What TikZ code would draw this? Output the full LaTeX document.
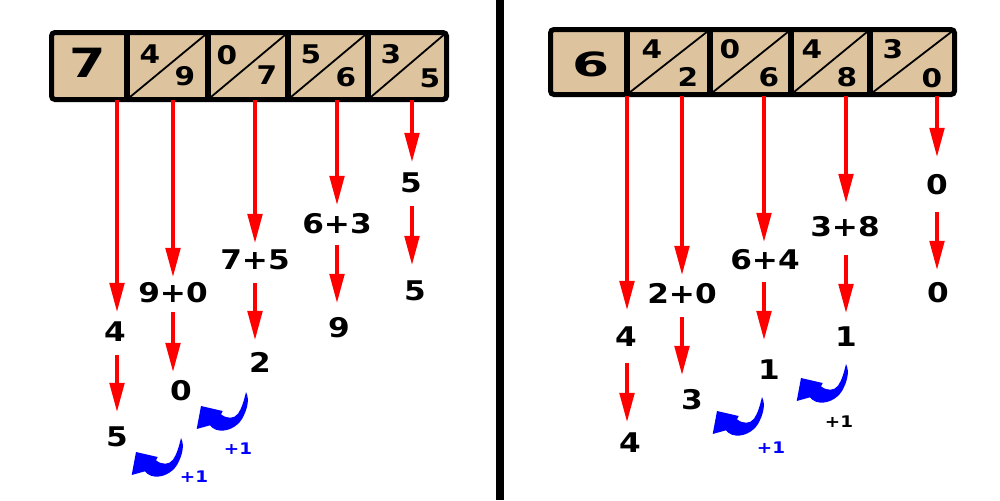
\documentclass[tikz,border=0pt]{standalone}
\usepackage{fontspec}
\usepackage{graphicx}
\usetikzlibrary{arrows.meta}
\newfontfamily\djv[FakeStretch=1.15]{DejaVu Sans}
\newfontfamily\djvbig{DejaVu Sans}
\definecolor{boxtan}{RGB}{221,196,158}
\begin{document}
\begin{tikzpicture}[x=0.72pt,y=-0.72pt,
  lab/.style={inner sep=0pt, font=\djv\bfseries\fontsize{19.5}{20}\selectfont},
  cd/.style={inner sep=0pt, font=\djv\bfseries\fontsize{18.5}{20}\selectfont},
  big/.style={inner sep=0pt, font=\djvbig\bfseries\fontsize{29}{30}\selectfont},
  small/.style={inner sep=0pt, font=\djv\bfseries\fontsize{11.5}{12}\selectfont},
  ra/.style={draw=red, line width=2.5pt, -{Triangle[width=10.5pt,length=21pt]}},
  frame/.style={line width=3.6pt, rounded corners=2.5pt},
  divider/.style={line width=4.3pt},
  diag/.style={line width=1.3pt},
  swoosh/.pic={\fill[blue] (0,0) .. controls (4,8) and (1,18) .. (-4,27)
     .. controls (-9,35) and (-20,41) .. (-30,37.7)
     .. controls (-33,36.5) and (-35,35) .. (-36,33.3)
     -- (-49.3,37) -- (-45,14) -- (-23.3,19) -- (-25,22.3)
     .. controls (-19,27) and (-12,27) .. (-8,21.7)
     .. controls (-4,16) and (-2,8) .. (0,0) -- cycle;}
]
\useasboundingbox (0,0) rectangle (1000,500);
\fill[white] (0,0) rectangle (1000,500);

% ---------- left box ----------
\fill[boxtan] (51.5,32.5) rectangle (446.5,99.5);
\foreach \l/\r in {127/208,208/288,288/368,368/446.5}
  \draw[diag] (\l,99.5) -- (\r,32.5);
\foreach \x in {127,208,288,368}
  \draw[divider] (\x,32.5) -- (\x,99.5);
\draw[frame] (51.5,32.5) rectangle (446.5,99.5);
\node[big] (L7) at (88,63) {\scalebox{1.3}[1]{7}};
\node[cd] at (150,54) {4};
\node[cd] at (185,76) {9};
\node[cd] at (227,55) {0};
\node[cd] at (267,75) {7};
\node[cd] at (311,54) {5};
\node[cd] at (346,77) {6};
\node[cd] at (391,54) {3};
\node[cd] at (430,78) {5};

% ---------- right box ----------
\fill[boxtan] (550.5,29.5) rectangle (954.5,94.5);
\foreach \l/\r in {627/710,710/791,791/870,870/954.5}
  \draw[diag] (\l,94.5) -- (\r,29.5);
\foreach \x in {627,710,791,870}
  \draw[divider] (\x,29.5) -- (\x,94.5);
\draw[frame] (550.5,29.5) rectangle (954.5,94.5);
\node[big, font=\djvbig\bfseries\fontsize{24}{25}\selectfont] (R6) at (591,64) {\scalebox{1.6}[1]{6}};
\node[cd] at (652,49) {4};
\node[cd] at (688,77) {2};
\node[cd] at (730,49) {0};
\node[cd] at (769,77) {6};
\node[cd] at (812,49) {4};
\node[cd] at (847,77) {8};
\node[cd] at (893,49) {3};
\node[cd] at (932,78) {0};

% ---------- separator ----------
\draw[line width=5.8pt] (500,0) -- (500,500);

% ---------- arrow starts ----------
\coordinate (a1) at (117,100);
\coordinate (a2) at (173,100);
\coordinate (a3) at (255,100);
\coordinate (a4) at (337,100);
\coordinate (a5) at (412,100);
\coordinate (b1) at (627,96);
\coordinate (b2) at (682,96);
\coordinate (b3) at (764,96);
\coordinate (b4) at (846,96);
\coordinate (b5) at (937,96);

% ---------- left labels ----------
\node[lab] (l1) at (115,332) {4};
\node[lab] (l1b) at (117,437) {5};
\node[lab] (l2) at (173,293) {9+0};
\node[lab] (l2b) at (181,391) {0};
\node[lab] (l3) at (255,260) {7+5};
\node[lab] (l3b) at (260,362) {2};
\node[lab] (l4) at (337,224) {6+3};
\node[lab] (l4b) at (339,328) {9};
\node[lab] (l5) at (411,183) {5};
\node[lab] (l5b) at (415,291) {5};

% ---------- right labels ----------
\node[lab] (r1) at (626,337) {4};
\node[lab] (r1b) at (630,443) {4};
\node[lab] (r2) at (682,294) {2+0};
\node[lab] (r2b) at (692,400) {3};
\node[lab] (r3) at (765,260) {6+4};
\node[lab] (r3b) at (769,370) {1};
\node[lab] (r4) at (845,227) {3+8};
\node[lab] (r4b) at (846,337) {1};
\node[lab] (r5) at (937,185) {0};
\node[lab] (r5b) at (938,293) {0};

% ---------- left arrows ----------
\draw[ra, shorten >=14.4pt] (a1) -- (a1 |- l1.center);
\draw[ra, shorten >=11.5pt] (a2) -- (a2 |- l2.center);
\draw[ra, shorten >=12.2pt] (a3) -- (a3 |- l3.center);
\draw[ra, shorten >=13.7pt] (a4) -- (a4 |- l4.center);
\draw[ra, shorten >=15.1pt] (a5) -- (a5 |- l5.center);
\draw[ra, shorten <=16.6pt, shorten >=18pt] (a1 |- l1.center) -- (a1 |- l1b.center);
\draw[ra, shorten <=13.7pt, shorten >=13.7pt] (a2 |- l2.center) -- (a2 |- l2b.center);
\draw[ra, shorten <=16.6pt, shorten >=15.8pt] (a3 |- l3.center) -- (a3 |- l3b.center);
\draw[ra, shorten <=15.1pt, shorten >=18pt] (a4 |- l4.center) -- (a4 |- l4b.center);
\draw[ra, shorten <=16.6pt, shorten >=18.7pt] (a5 |- l5.center) -- (a5 |- l5b.center);

% ---------- right arrows ----------
\draw[ra, shorten >=19.4pt] (b1) -- (b1 |- r1.center);
\draw[ra, shorten >=13.7pt] (b2) -- (b2 |- r2.center);
\draw[ra, shorten >=13pt] (b3) -- (b3 |- r3.center);
\draw[ra, shorten >=17.3pt] (b4) -- (b4 |- r4.center);
\draw[ra, shorten >=20.2pt] (b5) -- (b5 |- r5.center);
\draw[ra, shorten <=18.7pt, shorten >=15.1pt] (b1 |- r1.center) -- (b1 |- r1b.center);
\draw[ra, shorten <=16.6pt, shorten >=18pt] (b2 |- r2.center) -- (b2 |- r2b.center);
\draw[ra, shorten <=15.8pt, shorten >=21.6pt] (b3 |- r3.center) -- (b3 |- r3b.center);
\draw[ra, shorten <=20.2pt, shorten >=17.3pt] (b4 |- r4.center) -- (b4 |- r4b.center);
\draw[ra, shorten <=19.4pt, shorten >=16.6pt] (b5 |- r5.center) -- (b5 |- r5b.center);

% ---------- carry swooshes ----------
\pic at (246,392) {swoosh};
\pic at (181,438) {swoosh};
\pic at (846,364) {swoosh};
\pic at (762,397) {swoosh};
\node[small, text=blue] (c1) at (238,449) {+1};
\node[small, text=blue] (c2) at (194,477) {+1};
\node[small] (c3) at (839,422) {+1};
\node[small, text=blue] (c4) at (771,448) {+1};
\end{tikzpicture}
\end{document}
